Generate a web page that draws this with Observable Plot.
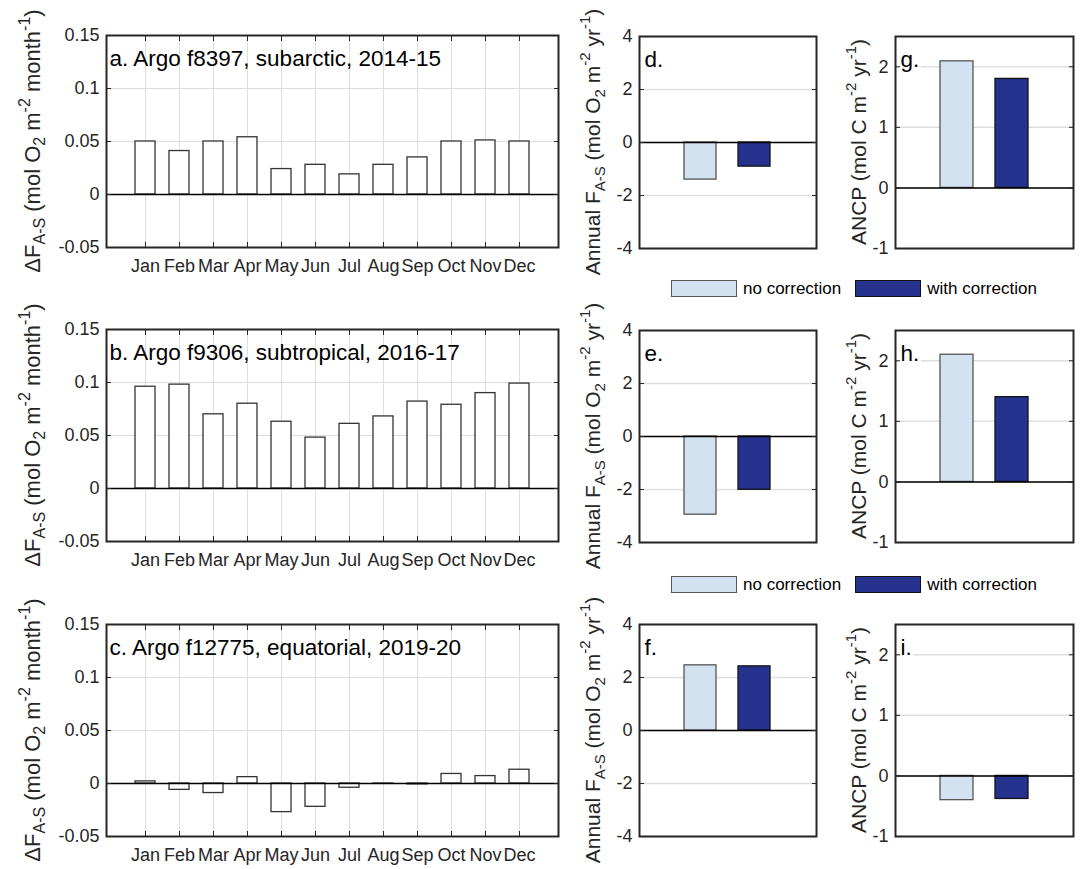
<!DOCTYPE html>
<html><head><meta charset="utf-8">
<script src="https://cdn.jsdelivr.net/npm/d3@7"></script>
<script src="https://cdn.jsdelivr.net/npm/@observablehq/plot@0.6"></script>
<style>
html,body{margin:0;padding:0;background:#fff;}
#chart{position:relative;width:1082px;height:869px;font-family:"Liberation Sans",Arial,sans-serif;overflow:hidden;}
#chart svg{position:absolute;overflow:visible;}
.legend{position:absolute;display:flex;align-items:center;font-size:17px;color:#000;height:17px;white-space:nowrap;}
.sw{width:66px;height:17px;box-sizing:border-box;border:1.5px solid #555;}
.lt{margin-left:6px;margin-right:14px;}
</style></head><body><div id="chart"></div>
<script>
// ---- data ----
const months = ["Jan","Feb","Mar","Apr","May","Jun","Jul","Aug","Sep","Oct","Nov","Dec"];
const fluxSubarctic   = [0.050,0.041,0.050,0.054,0.024,0.028,0.019,0.028,0.035,0.050,0.051,0.050];
const fluxSubtropical = [0.096,0.098,0.070,0.080,0.063,0.048,0.061,0.068,0.082,0.079,0.090,0.099];
const fluxEquatorial  = [0.002,-0.006,-0.009,0.006,-0.027,-0.022,-0.004,-0.0003,-0.0008,0.009,0.007,0.013];
const leftTitles = ["a. Argo f8397, subarctic, 2014-15","b. Argo f9306, subtropical, 2016-17","c. Argo f12775, equatorial, 2019-20"];
const seriesNames = ["no correction","with correction"];
const seriesFill = ["#d3e2f1","#25338f"];
const seriesEdge = ["#555555","#111111"];
const annualFluxSubarctic   = [-1.40,-0.91];
const annualFluxSubtropical = [-2.95,-2.01];
const annualFluxEquatorial  = [2.46,2.42];
const ancpSubarctic   = [2.09,1.80];
const ancpSubtropical = [2.10,1.40];
const ancpEquatorial  = [-0.40,-0.38];
const fluxTicks = [-0.05,0,0.05,0.1,0.15];
const annualTicks = [-4,-2,0,2,4];
const ancpTicks = [-1,0,1,2];
const midLetters = ["d.","e.","f."];
const rightLetters = ["g.","h.","i."];
const fluxLabel = [["ΔF",""],["A-S","sub"],[" (mol O",""],["2","sub"],[" m",""],["-2","sup"],[" month",""],["-1","sup"],[")",""]];
const annualLabel = [["Annual F",""],["A-S","sub"],[" (mol O",""],["2","sub"],[" m",""],["-2","sup"],[" yr",""],["-1","sup"],[")",""]];
const ancpLabel = [["ANCP (mol C m",""],["-2","sup"],[" yr",""],["-1","sup"],[")",""]];

// ---- layout ----
const FONT = '"Liberation Sans", Arial, sans-serif';
const chart = document.getElementById("chart");
const leftTops = [35, 329, 624];
const rightTops = [36, 330, 624];
const FH = 212;
const axisColor = "#262626";
const gridColor = "#dedede";

function place(svg, left, top) {
  svg.style.left = left + "px";
  svg.style.top = top + "px";
  chart.appendChild(svg);
}

function addYLabel(svg, parts, x, cy, size) {
  const small = Math.round(size * 0.72);
  const t = d3.select(svg).append("text")
    .attr("transform", `translate(${x},${cy}) rotate(-90)`)
    .attr("text-anchor", "middle")
    .attr("font-family", FONT)
    .attr("font-size", size)
    .attr("fill", axisColor)
    .style("white-space", "pre");
  let shift = 0;
  for (const [s, kind] of parts) {
    const target = kind === "sub" ? 5 : kind === "sup" ? -10 : 0;
    t.append("tspan").attr("dy", target - shift).attr("font-size", kind ? small : size).text(s);
    shift = target;
  }
}

function leftPanel(values, title, frameTop) {
  const data = months.map((m, i) => ({month: m, value: values[i]}));
  const mt = 35, mb = 45;
  const svg = Plot.plot({
    width: 570, height: mt + FH + mb,
    marginLeft: 106, marginRight: 12, marginTop: mt, marginBottom: mb,
    style: {fontFamily: FONT, fontSize: "18px", color: axisColor, background: "transparent", overflow: "visible"},
    x: {type: "band", domain: months, paddingInner: 0.4, paddingOuter: 0.79},
    y: {domain: [-0.05, 0.15]},
    marks: [
      Plot.gridX({stroke: gridColor, strokeOpacity: 1}),
      Plot.gridY({ticks: fluxTicks, stroke: gridColor, strokeOpacity: 1}),
      Plot.barY(data, {x: "month", y: "value", fill: "white", stroke: "#333", strokeWidth: 1.3}),
      Plot.ruleY([0], {stroke: "#000", strokeWidth: 1.6}),
      Plot.text([title], {frameAnchor: "top-left", dx: 3, dy: 30, lineAnchor: "bottom", textAnchor: "start", fontSize: 22.5, fill: "#000"}),
      Plot.axisX({anchor: "bottom", tickSize: 5, dy: -5, tickPadding: 12, label: null, fontSize: 18}),
      Plot.axisX({anchor: "top", tickSize: 5, dy: 5, tickFormat: () => null, label: null}),
      Plot.axisY({ticks: fluxTicks, anchor: "left", tickSize: 5, dx: 5, tickPadding: 7, tickFormat: d => String(d), label: null, fontSize: 18}),
      Plot.axisY({ticks: fluxTicks, anchor: "right", tickSize: 5, dx: -5, tickFormat: () => null, label: null}),
      Plot.frame({stroke: axisColor, strokeWidth: 2})
    ]
  });
  addYLabel(svg, fluxLabel, 40, mt + FH / 2, 22);
  place(svg, 0, frameTop - mt);
}

function smallPanel(values, letter, ticks, domain, label, left, marginLeft, frameW, marginRight, frameTop) {
  const data = seriesNames.map((s, i) => ({series: s, value: values[i], fill: seriesFill[i], edge: seriesEdge[i]}));
  const mt = 36, mb = 30;
  const svg = Plot.plot({
    width: marginLeft + frameW + marginRight, height: mt + FH + mb,
    marginLeft, marginRight, marginTop: mt, marginBottom: mb,
    style: {fontFamily: FONT, fontSize: "18px", color: axisColor, background: "transparent", overflow: "visible"},
    x: {type: "band", domain: seriesNames, paddingInner: 0.4, paddingOuter: 0.81, axis: null},
    y: {domain},
    color: {type: "identity"},
    marks: [
      Plot.gridY({ticks, stroke: gridColor, strokeOpacity: 1, strokeWidth: 1.5}),
      Plot.barY(data, {x: "series", y: "value", fill: "fill", stroke: "edge", strokeWidth: 1.3}),
      Plot.ruleY([0], {stroke: "#000", strokeWidth: 1.6}),
      Plot.text([letter], {frameAnchor: "top-left", dx: 5, dy: 30, lineAnchor: "bottom", textAnchor: "start", fontSize: 22.5, fill: "#000", stroke: "white", strokeWidth: 7, paintOrder: "stroke"}),
      Plot.axisY({ticks, anchor: "left", tickSize: 5, dx: 5, tickPadding: 7, tickFormat: d => String(d), label: null, fontSize: 18}),
      Plot.axisY({ticks, anchor: "right", tickSize: 5, dx: -5, tickFormat: () => null, label: null}),
      Plot.frame({stroke: axisColor, strokeWidth: 2})
    ]
  });
  addYLabel(svg, label, 40, mt + FH / 2, 21);
  place(svg, left, frameTop - mt);
}

const leftSeries = [fluxSubarctic, fluxSubtropical, fluxEquatorial];
const annualSeries = [annualFluxSubarctic, annualFluxSubtropical, annualFluxEquatorial];
const ancpSeries = [ancpSubarctic, ancpSubtropical, ancpEquatorial];

for (let r = 0; r < 3; r++) {
  leftPanel(leftSeries[r], leftTitles[r], leftTops[r]);
  smallPanel(annualSeries[r], midLetters[r], annualTicks, [-4, 4], annualLabel, 560, 79, 177, 8, rightTops[r]);
  smallPanel(ancpSeries[r], rightLetters[r], ancpTicks, [-1, 2.5], ancpLabel, 826, 69, 178, 9, rightTops[r]);
}

// ---- legends ----
const legendTops = [280, 576];
for (const top of legendTops) {
  const lg = document.createElement("div");
  lg.className = "legend";
  lg.style.left = "671px";
  lg.style.top = top + "px";
  seriesNames.forEach((name, i) => {
    const sw = document.createElement("div");
    sw.className = "sw";
    sw.style.background = seriesFill[i];
    sw.style.borderColor = i === 0 ? "#555" : "#111";
    const tx = document.createElement("span");
    tx.className = "lt";
    tx.textContent = name;
    lg.appendChild(sw);
    lg.appendChild(tx);
  });
  chart.appendChild(lg);
}
</script>
</body></html>
